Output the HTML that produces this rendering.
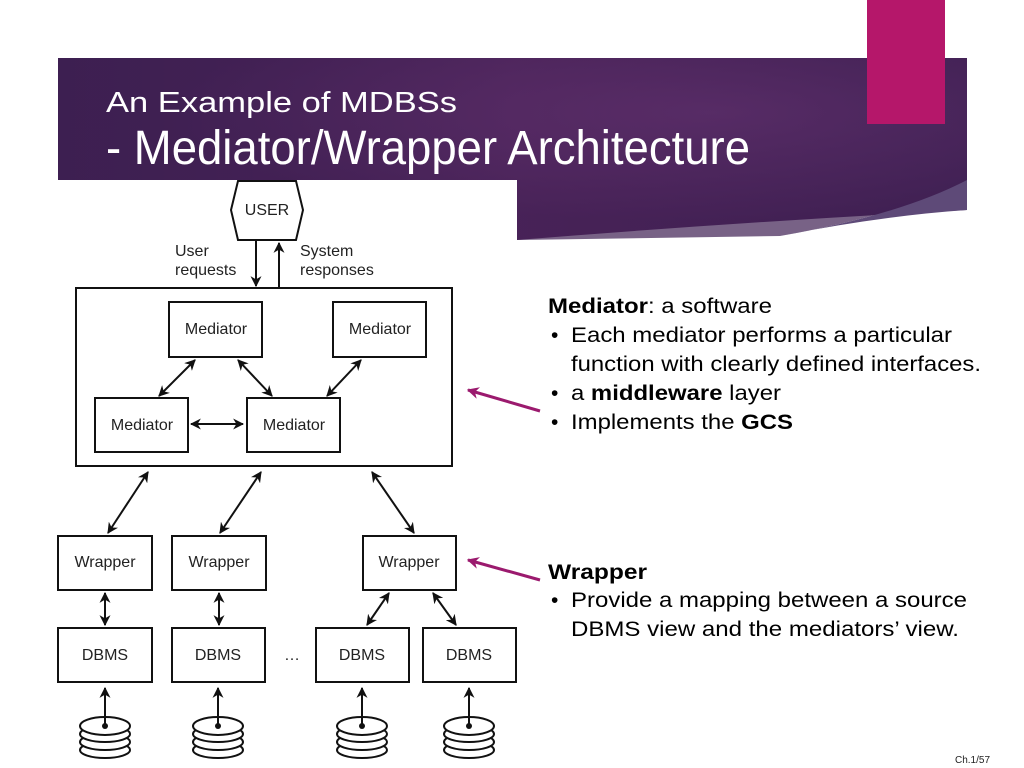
<!DOCTYPE html>
<html><head><meta charset="utf-8"><style>
html,body{margin:0;padding:0;background:#fff;}
svg{display:block;}
</style></head><body>
<svg width="1024" height="768" xmlns="http://www.w3.org/2000/svg" font-family="Liberation Sans, Arial, sans-serif">
<defs>
<radialGradient id="g" cx="0.72" cy="0.3" r="0.6">
<stop offset="0" stop-color="#5a2e6a"/>
<stop offset="1" stop-color="#3e1f52"/>
</radialGradient>
<linearGradient id="g2" x1="0" y1="0" x2="1" y2="0">
<stop offset="0" stop-color="#3a1f4e"/>
<stop offset="0.5" stop-color="#5e2a64"/>
<stop offset="1" stop-color="#3e2050"/>
</linearGradient>
<marker id="a" viewBox="0 0 10 10" refX="9" refY="5" markerWidth="11" markerHeight="11" markerUnits="userSpaceOnUse" orient="auto-start-reverse"><path d="M0,0 L10,5 L0,10 L3,5 z" fill="#111"/></marker>
<marker id="m" viewBox="0 0 10 10" refX="9" refY="5" markerWidth="12" markerHeight="12" markerUnits="userSpaceOnUse" orient="auto"><path d="M0,0 L10,5 L0,10 L3,5 z" fill="#9b1a6e"/></marker>
</defs>
<path d="M58,58 H967 V210 Q740,222 517,240 V180 H58 Z" fill="url(#g2)"/>
<path d="M58,58 H967 V180 Q900,215 780,236 Q650,238 517,240 V180 H58 Z" fill="url(#g)" opacity="0.7"/>
<path d="M967,180 Q900,215 780,236 Q880,216 967,210 Z" fill="#5e4a78"/>
<rect x="867" y="0" width="78" height="124" fill="#b5176a"/>
<text x="106" y="112" font-size="29" fill="#fff" textLength="351" lengthAdjust="spacingAndGlyphs">An Example of MDBSs</text>
<text x="106" y="164" font-size="48" fill="#fff" textLength="644" lengthAdjust="spacingAndGlyphs">- Mediator/Wrapper Architecture</text>

<g stroke="#111" stroke-width="2" fill="#fff">
<polygon points="238,181 296,181 303,210 296,240 238,240 231,210"/>
<rect x="76" y="288" width="376" height="178"/>
<rect x="169" y="302" width="93" height="55"/>
<rect x="333" y="302" width="93" height="55"/>
<rect x="95" y="398" width="93" height="54"/>
<rect x="247" y="398" width="93" height="54"/>
<rect x="58" y="536" width="94" height="54"/>
<rect x="172" y="536" width="94" height="54"/>
<rect x="363" y="536" width="93" height="54"/>
<rect x="58" y="628" width="94" height="54"/>
<rect x="172" y="628" width="93" height="54"/>
<rect x="316" y="628" width="93" height="54"/>
<rect x="423" y="628" width="93" height="54"/>
</g>
<g font-size="16" fill="#222" text-anchor="middle">
<text x="267" y="215">USER</text>
<text x="216" y="334">Mediator</text>
<text x="380" y="334">Mediator</text>
<text x="142" y="430">Mediator</text>
<text x="294" y="430">Mediator</text>
<text x="105" y="567">Wrapper</text>
<text x="219" y="567">Wrapper</text>
<text x="409" y="567">Wrapper</text>
<text x="105" y="660">DBMS</text>
<text x="218" y="660">DBMS</text>
<text x="362" y="660">DBMS</text>
<text x="469" y="660">DBMS</text>
<text x="292" y="660">…</text>
</g>
<g font-size="16" fill="#222">
<text x="175" y="256">User</text>
<text x="175" y="275">requests</text>
<text x="300" y="256">System</text>
<text x="300" y="275">responses</text>
</g>
<g stroke="#111" stroke-width="2" fill="none">
<line x1="256" y1="241" x2="256" y2="286" marker-end="url(#a)"/>
<line x1="279" y1="288" x2="279" y2="243" marker-end="url(#a)"/>
<line x1="195" y1="360" x2="159" y2="396" marker-start="url(#a)" marker-end="url(#a)"/>
<line x1="238" y1="360" x2="272" y2="396" marker-start="url(#a)" marker-end="url(#a)"/>
<line x1="361" y1="360" x2="327" y2="396" marker-start="url(#a)" marker-end="url(#a)"/>
<line x1="191" y1="424" x2="243" y2="424" marker-start="url(#a)" marker-end="url(#a)"/>
<line x1="148" y1="472" x2="108" y2="533" marker-start="url(#a)" marker-end="url(#a)"/>
<line x1="261" y1="472" x2="220" y2="533" marker-start="url(#a)" marker-end="url(#a)"/>
<line x1="372" y1="472" x2="414" y2="533" marker-start="url(#a)" marker-end="url(#a)"/>
<line x1="105" y1="593" x2="105" y2="625" marker-start="url(#a)" marker-end="url(#a)"/>
<line x1="219" y1="593" x2="219" y2="625" marker-start="url(#a)" marker-end="url(#a)"/>
<line x1="389" y1="593" x2="367" y2="625" marker-start="url(#a)" marker-end="url(#a)"/>
<line x1="433" y1="593" x2="456" y2="625" marker-start="url(#a)" marker-end="url(#a)"/>
</g>
<g stroke="#111" stroke-width="2" fill="#fff">
<g id="d1">
<ellipse cx="105" cy="750" rx="25" ry="8"/>
<ellipse cx="105" cy="742" rx="25" ry="8"/>
<ellipse cx="105" cy="734" rx="25" ry="8"/>
<ellipse cx="105" cy="726" rx="25" ry="9"/>
</g>
<use href="#d1" x="113"/>
<use href="#d1" x="257"/>
<use href="#d1" x="364"/>
</g>
<g stroke="#111" stroke-width="2">
<line x1="105" y1="688" x2="105" y2="725" marker-start="url(#a)"/>
<line x1="218" y1="688" x2="218" y2="725" marker-start="url(#a)"/>
<line x1="362" y1="688" x2="362" y2="725" marker-start="url(#a)"/>
<line x1="469" y1="688" x2="469" y2="725" marker-start="url(#a)"/>
</g>
<g fill="#111"><circle cx="105" cy="726" r="3"/><circle cx="218" cy="726" r="3"/><circle cx="362" cy="726" r="3"/><circle cx="469" cy="726" r="3"/></g>
<g stroke="#9b1a6e" stroke-width="3">
<line x1="540" y1="411" x2="468" y2="390" marker-end="url(#m)"/>
<line x1="540" y1="580" x2="468" y2="560" marker-end="url(#m)"/>
</g>
<g font-size="21" fill="#000">
<text x="548" y="313" textLength="224" lengthAdjust="spacingAndGlyphs"><tspan font-weight="bold">Mediator</tspan>: a software</text>
<text x="551" y="342">•</text><text x="571" y="342" textLength="381" lengthAdjust="spacingAndGlyphs">Each mediator performs a particular</text>
<text x="571" y="371" textLength="410" lengthAdjust="spacingAndGlyphs">function with clearly defined interfaces.</text>
<text x="551" y="400">•</text><text x="571" y="400" textLength="210" lengthAdjust="spacingAndGlyphs">a <tspan font-weight="bold">middleware</tspan> layer</text>
<text x="551" y="429">•</text><text x="571" y="429" textLength="222" lengthAdjust="spacingAndGlyphs">Implements the <tspan font-weight="bold">GCS</tspan></text>
<text x="548" y="579" font-weight="bold" textLength="99" lengthAdjust="spacingAndGlyphs">Wrapper</text>
<text x="551" y="607">•</text><text x="571" y="607" textLength="396" lengthAdjust="spacingAndGlyphs">Provide a mapping between a source</text>
<text x="571" y="636" textLength="388" lengthAdjust="spacingAndGlyphs">DBMS view and the mediators’ view.</text>
</g>
<text x="955" y="763" font-size="10" fill="#222">Ch.1/57</text>
</svg>
</body></html>
